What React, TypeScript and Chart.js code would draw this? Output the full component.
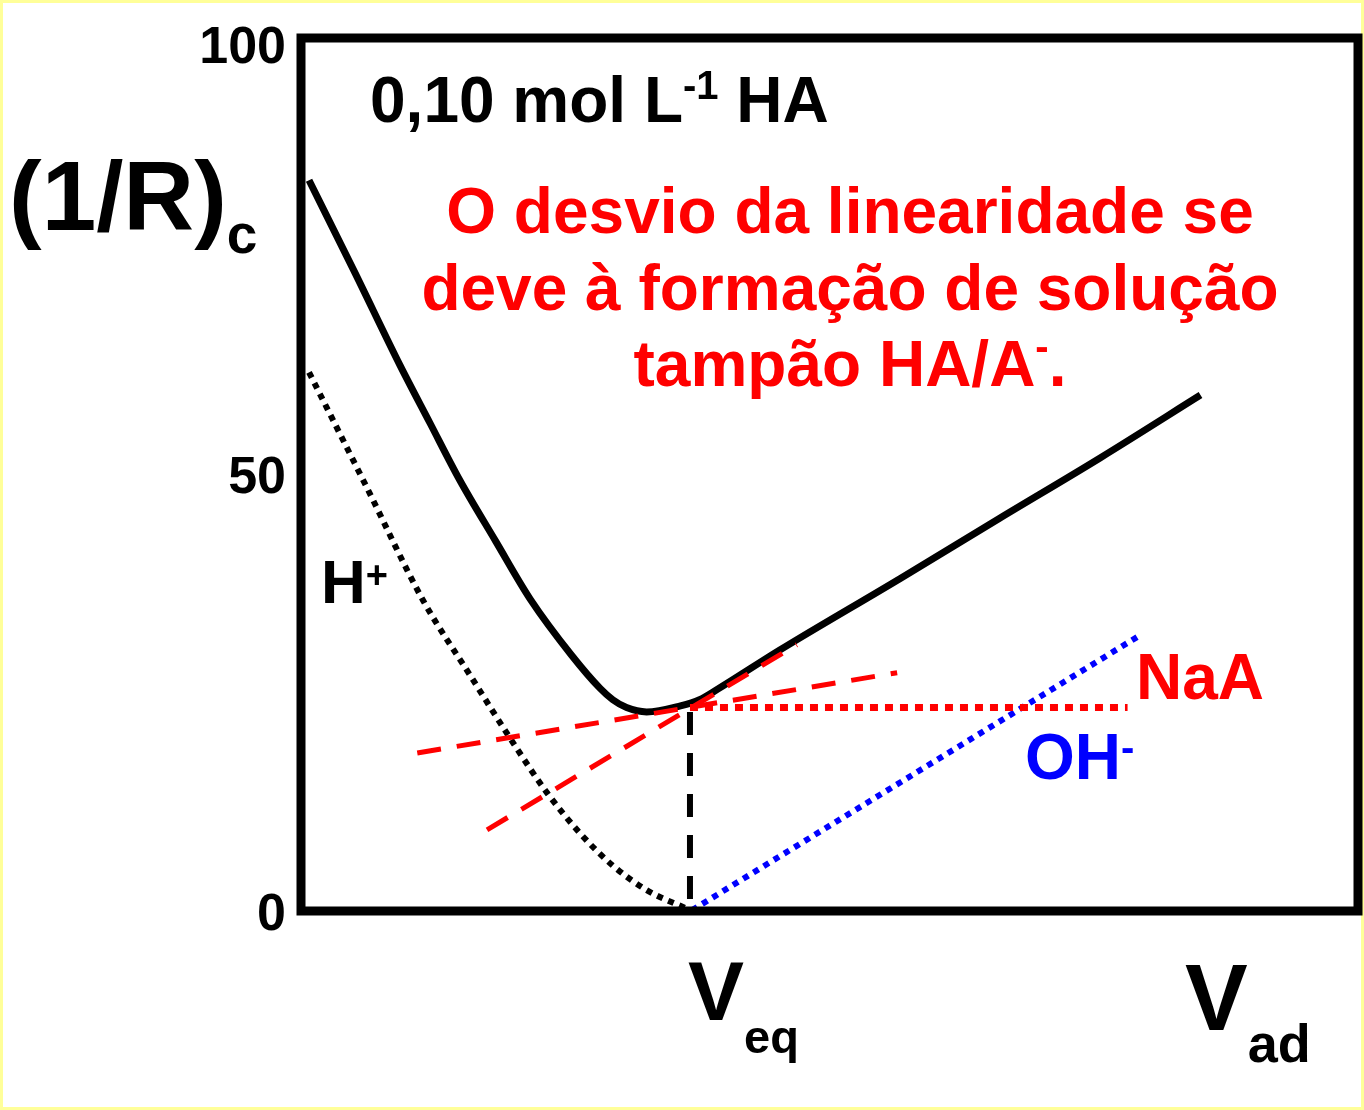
import React, { useEffect, useRef } from 'react';
import { Chart, registerables } from 'chart.js';

Chart.register(...registerables);

const FONT = '"Liberation Sans", Arial, Helvetica, sans-serif';

// Condutância total (curva principal)
const totalX = [0.76, 5.11, 9.37, 12.2, 15.0, 18.4, 21.7, 25.6, 28.3, 29.5, 30.8, 32.7, 35.9, 37.7, 39.4, 45.3, 56.7, 66.1, 75.6, 85.1];
const totalY = [83.7, 73.1, 62.5, 55.9, 49.4, 42.4, 35.7, 29.3, 25.5, 24.2, 23.3, 22.8, 23.5, 24.2, 25.4, 29.9, 38.1, 45.0, 51.9, 59.1];

// Contribuição do H+
const hX = [0.76, 6.15, 11.54, 16.0, 20.1, 23.3, 26.4, 29.5, 32.7, 36.8];
const hY = [61.7, 48.7, 35.6, 27.0, 19.2, 13.5, 8.9, 5.2, 2.4, 0.1];

// Contribuição do OH-
const ohX = [37.0, 79.4];
const ohY = [0.1, 31.6];

// Contribuição do NaA
const naaX = [36.8, 78.2];
const naaY = [23.3, 23.3];

// Volume de equivalência
const veq = 36.8;
const veqLineY = [22.8, 0.5];

// Retas tangentes (desvio da linearidade)
const tan1X = [11.0, 56.4];
const tan1Y = [18.1, 27.3];
const tan2X = [17.6, 46.9];
const tan2Y = [9.3, 30.5];

const yTicks = [0, 50, 100];

type Part = { t: string; size: number; dy?: number; color?: string; w?: number };

function drawRich(ctx: CanvasRenderingContext2D, x: number, baseline: number, parts: Part[], align: 'left' | 'center', color: string) {
  let total = 0;
  parts.forEach((p) => {
    ctx.font = `bold ${p.size}px ${FONT}`;
    p.w = ctx.measureText(p.t).width;
    total += p.w;
  });
  let cx = align === 'center' ? x - total / 2 : x;
  ctx.textAlign = 'left';
  ctx.textBaseline = 'alphabetic';
  parts.forEach((p) => {
    ctx.font = `bold ${p.size}px ${FONT}`;
    ctx.fillStyle = p.color || color;
    ctx.fillText(p.t, cx, baseline + (p.dy || 0));
    cx += p.w || 0;
  });
}

const pts = (xs: number[], ys: number[]) => xs.map((x, i) => ({ x, y: ys[i] }));

export default function App() {
  const ref = useRef<HTMLCanvasElement>(null);

  useEffect(() => {
    document.body.style.margin = '0';
    const canvas = ref.current!;

    const decor = {
      id: 'decor',
      beforeDraw(chart: any) {
        const { ctx, width, height } = chart;
        ctx.save();
        ctx.fillStyle = '#FFFF99';
        ctx.fillRect(0, 0, width, height);
        ctx.fillStyle = '#FFFFFF';
        ctx.fillRect(3, 3, width - 6, height - 6);
        ctx.restore();
      },
      afterDraw(chart: any) {
        const { ctx, chartArea: a, scales } = chart;
        ctx.save();
        ctx.strokeStyle = '#000';
        ctx.lineWidth = 9;
        ctx.strokeRect(a.left, a.top, a.right - a.left, a.bottom - a.top);

        // y tick labels
        ctx.fillStyle = '#000';
        ctx.font = `bold 52px ${FONT}`;
        ctx.textAlign = 'right';
        ctx.textBaseline = 'alphabetic';
        yTicks.forEach((v) => {
          let cy = scales.y.getPixelForValue(v);
          if (v === 100) cy += 6;
          ctx.fillText(String(v), 286, cy + 0.358 * 52);
        });

        // y axis title
        drawRich(ctx, 9, 230, [
          { t: '(1/R)', size: 98 },
          { t: 'c', size: 55, dy: 23 },
        ], 'left', '#000');

        // concentration label
        drawRich(ctx, 370, 122, [
          { t: '0,10 mol L', size: 64 },
          { t: '-1', size: 40, dy: -23 },
          { t: ' HA', size: 64 },
        ], 'left', '#000');

        // red note
        const red = '#FF0000';
        drawRich(ctx, 850, 233, [{ t: 'O desvio da linearidade se', size: 64 }], 'center', red);
        drawRich(ctx, 850, 310, [{ t: 'deve à formação de solução', size: 64 }], 'center', red);
        drawRich(ctx, 850, 386, [
          { t: 'tampão HA/A', size: 64 },
          { t: '-', size: 40, dy: -26 },
          { t: '.', size: 64 },
        ], 'center', red);

        // species labels
        drawRich(ctx, 321, 603, [
          { t: 'H', size: 62 },
          { t: '+', size: 38, dy: -15 },
        ], 'left', '#000');
        drawRich(ctx, 1136, 699, [{ t: 'NaA', size: 64 }], 'left', red);
        drawRich(ctx, 1025, 779, [
          { t: 'OH', size: 64 },
          { t: '-', size: 40, dy: -18 },
        ], 'left', '#0000FF');

        // x labels
        const vx = scales.x.getPixelForValue(veq);
        drawRich(ctx, vx - 2, 1020, [
          { t: 'V', size: 84 },
          { t: 'eq', size: 47, dy: 33 },
        ], 'left', '#000');
        drawRich(ctx, 1185, 1030, [
          { t: 'V', size: 94 },
          { t: 'ad', size: 54, dy: 32 },
        ], 'left', '#000');
        ctx.restore();
      },
    };

    const common = { pointRadius: 0, fill: false, tension: 0 };

    const chart = new Chart(canvas, {
      type: 'line',
      data: {
        datasets: [
          {
            ...common,
            data: pts(tan1X, tan1Y),
            borderColor: '#FF0000',
            borderWidth: 5,
            borderDash: [24, 16],
            order: 1,
          },
          {
            ...common,
            data: pts(tan2X, tan2Y),
            borderColor: '#FF0000',
            borderWidth: 5,
            borderDash: [24, 16],
            order: 1,
          },
          {
            ...common,
            data: pts(naaX, naaY),
            borderColor: '#FF0000',
            borderWidth: 7,
            borderDash: [8, 7],
            order: 2,
          },
          {
            ...common,
            data: pts([veq, veq], veqLineY),
            borderColor: '#000',
            borderWidth: 6,
            borderDash: [23, 18],
            order: 3,
          },
          {
            ...common,
            data: pts(ohX, ohY),
            borderColor: '#0000FF',
            borderWidth: 6,
            borderDash: [6, 6],
            order: 2,
          },
          {
            ...common,
            data: pts(hX, hY),
            borderColor: '#000',
            borderWidth: 6,
            borderDash: [6, 6],
            cubicInterpolationMode: 'monotone',
            order: 4,
          },
          {
            ...common,
            data: pts(totalX, totalY),
            borderColor: '#000',
            borderWidth: 7,
            borderJoinStyle: 'round',
            cubicInterpolationMode: 'monotone',
            order: 5,
          },
        ],
      },
      options: {
        animation: false,
        responsive: false,
        maintainAspectRatio: false,
        devicePixelRatio: 1,
        layout: { padding: { left: 301, top: 38, right: 6, bottom: 199 } },
        scales: {
          x: { type: 'linear', min: 0, max: 100, display: false },
          y: { type: 'linear', min: 0, max: 100, display: false },
        },
        plugins: { legend: { display: false }, tooltip: { enabled: false } },
      } as any,
      plugins: [decor],
    } as any);

    return () => chart.destroy();
  }, []);

  return (
    <div style={{ position: 'absolute', left: 0, top: 0, width: 1364, height: 1110 }}>
      <canvas ref={ref} width={1364} height={1110} style={{ display: 'block' }} />
    </div>
  );
}
